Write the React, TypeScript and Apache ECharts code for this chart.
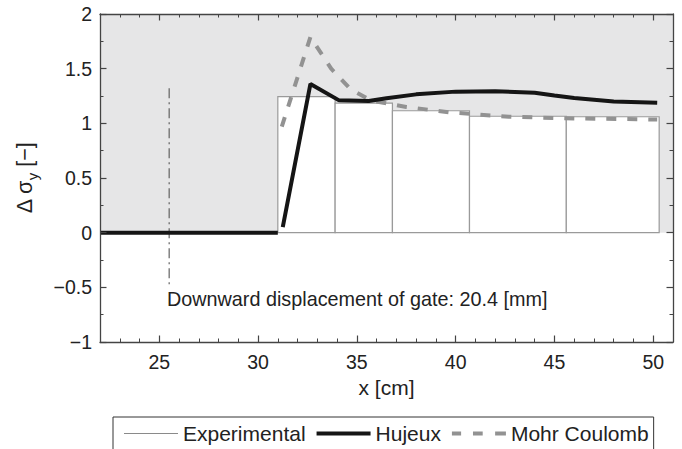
import React, { useEffect, useRef } from 'react';
import * as echarts from 'echarts';

// x-axis (cm) and y-axis ranges / ticks
const xRange = [22, 51];
const xMajorTicks = [25, 30, 35, 40, 45, 50];
const yRange = [-1, 2];

// Experimental: bins [xStart, xEnd, value]
const experimentalBins = [
  [31.0, 33.9, 1.245],
  [33.9, 36.8, 1.185],
  [36.8, 40.7, 1.115],
  [40.7, 45.6, 1.065],
  [45.6, 50.3, 1.06],
];

// Hujeux model
const hujeux = [
  [22, 0], [31.0, 0], [31.1, null],
  [31.25, 0.05], [32.65, 1.36], [34.1, 1.21], [35.6, 1.205], [36.5, 1.23],
  [38.0, 1.265], [40.0, 1.29], [42.0, 1.293], [44.0, 1.28], [45.0, 1.255],
  [46.0, 1.232], [48.0, 1.2], [50.2, 1.188],
];

// Mohr Coulomb model
const mohrCoulomb = [
  [31.2, 0.97], [32.65, 1.79], [33.7, 1.5], [34.7, 1.31], [35.7, 1.21],
  [37.5, 1.15], [39.7, 1.1], [42.7, 1.06], [46.0, 1.045], [50.2, 1.035],
];

// gate position marker (dash-dot vertical)
const gateMarker = [[25.5, 1.32], [25.5, -0.5]];

// shaded zone above zero
const shadedZone = [[22, 0], [51, 2]];

const annotation = 'Downward displacement of gate: 20.4 [mm]';

const FONT = '"Liberation Sans", Arial, sans-serif';
const AXIS_COLOR = '#444';
const TEXT_COLOR = '#222';

export default function App() {
  const ref = useRef<HTMLDivElement>(null);
  useEffect(() => {
    document.body.style.margin = '0';
    if (!ref.current) return;
    const chart = echarts.init(ref.current, null, { renderer: 'svg' });

    const axisLine = { show: true, onZero: false, lineStyle: { color: AXIS_COLOR, width: 1.3 } };
    const minorX = (position: string) => ({
      type: 'value', position, min: xRange[0], max: xRange[1], interval: 1, z: 10,
      axisLine, splitLine: { show: false },
      axisTick: { show: true, inside: true, length: 3.5, lineStyle: { color: AXIS_COLOR, width: 1 } },
      axisLabel: { show: false },
    });
    const majorX = (position: string) => ({
      type: 'value', position, min: xRange[0], max: xRange[1], z: 10,
      axisLine: { show: false, onZero: false }, splitLine: { show: false },
      axisTick: { show: true, inside: true, length: 6.5, customValues: xMajorTicks, lineStyle: { color: AXIS_COLOR, width: 1.2 } },
      axisLabel: { show: false },
    });
    const yAx = (position: string, labels: boolean) => ({
      type: 'value', position, min: yRange[0], max: yRange[1], interval: 0.5, z: 10,
      axisLine, splitLine: { show: false },
      axisTick: { show: true, inside: true, length: 6.5, lineStyle: { color: AXIS_COLOR, width: 1.2 } },
      minorTick: { show: true, splitNumber: 2, length: 3.5, lineStyle: { color: AXIS_COLOR, width: 1 } },
      minorSplitLine: { show: false },
      axisLabel: {
        show: labels, margin: 8, fontSize: 19.5, fontFamily: FONT, color: TEXT_COLOR,
        formatter: (v: number) => (v < 0 ? '\u2212' + Math.abs(v) : String(v)),
      },
    });

    const bottomMinor: any = minorX('bottom');
    bottomMinor.axisLabel = {
      show: true, margin: 10, fontSize: 19.5, fontFamily: FONT, color: TEXT_COLOR,
      formatter: (v: number) => (xMajorTicks.indexOf(v) >= 0 ? String(v) : ''),
    };
    bottomMinor.name = 'x [cm]';
    bottomMinor.nameLocation = 'middle';
    bottomMinor.nameGap = 26;
    bottomMinor.nameTextStyle = { fontSize: 21, fontFamily: FONT, color: TEXT_COLOR };

    const leftY: any = yAx('left', true);
    leftY.name = '{a|\u0394 \u03c3}{s|y}{a| [\u2212]}';
    leftY.nameLocation = 'middle';
    leftY.nameRotate = 90;
    leftY.nameGap = 60;
    leftY.nameTextStyle = {
      fontFamily: FONT, color: TEXT_COLOR,
      rich: {
        a: { fontSize: 21.5, fontFamily: FONT, color: TEXT_COLOR, lineHeight: 30, verticalAlign: 'middle' },
        s: { fontSize: 15, fontFamily: FONT, color: TEXT_COLOR, lineHeight: 30, verticalAlign: 'bottom' },
      },
    };

    const option: any = {
      animation: false,
      backgroundColor: '#fff',
      grid: { left: 100, top: 14, right: 9, bottom: 107, containLabel: false },
      xAxis: [bottomMinor, majorX('bottom'), minorX('top'), majorX('top')],
      yAxis: [leftY, yAx('right', false)],
      legend: {
        left: 113, top: 417,
        orient: 'horizontal',
        padding: [6, 5, 40, 11],
        itemGap: 11,
        itemWidth: 54,
        itemHeight: 14,
        borderColor: '#333',
        borderWidth: 1,
        textStyle: { fontSize: 21, fontFamily: FONT, color: TEXT_COLOR },
        data: [
          { name: 'Experimental', icon: 'path://M0,0H100V1.9H0Z', itemStyle: { color: '#8a8a8a', borderWidth: 0 } },
          { name: 'Hujeux', icon: 'path://M0,0H100V7.6H0Z', itemStyle: { color: '#151515', borderWidth: 0 } },
          {
            name: 'Mohr Coulomb',
            icon: 'path://M0,0H17V7.6H0Z M39,0H57V7.6H39Z M80,0H100V7.6H80Z',
            itemStyle: { color: '#929292', borderWidth: 0 },
          },
        ],
      },
      graphic: [
        {
          type: 'text', left: 167, top: 289, z: 10,
          style: { text: annotation, fontSize: 19.8, fontFamily: FONT, fill: TEXT_COLOR },
        },
      ],
      series: [
        {
          name: 'shade', type: 'line', data: [], z: 0, silent: true,
          markArea: {
            silent: true,
            itemStyle: { color: '#e6e6e7' },
            data: [[{ coord: shadedZone[0] }, { coord: shadedZone[1] }]],
          },
        },
        {
          name: 'Experimental', type: 'custom', z: 1,
          data: experimentalBins,
          encode: { x: [0, 1], y: 2 },
          itemStyle: { color: '#8a8a8a' },
          renderItem: (params: any, api: any) => {
            const p0 = api.coord([api.value(0), api.value(2)]);
            const p1 = api.coord([api.value(1), 0]);
            return {
              type: 'rect',
              shape: { x: p0[0], y: p0[1], width: p1[0] - p0[0], height: p1[1] - p0[1] },
              style: { fill: '#fff', stroke: '#9a9a9a', lineWidth: 1.2 },
            };
          },
        },
        {
          name: 'gate', type: 'line', data: gateMarker, z: 2, symbol: 'none', silent: true,
          lineStyle: { color: '#555', width: 1.1, type: [10, 4, 2, 4] },
        },
        {
          name: 'Mohr Coulomb', type: 'line', data: mohrCoulomb, z: 3, symbol: 'none',
          color: '#929292',
          lineStyle: { color: '#929292', width: 4, type: [10, 11] },
        },
        {
          name: 'Hujeux', type: 'line', data: hujeux, z: 4, symbol: 'none',
          color: '#151515', connectNulls: false,
          lineStyle: { color: '#151515', width: 4 },
        },
      ],
    };
    chart.setOption(option);
    return () => chart.dispose();
  }, []);
  return <div ref={ref} style={{ width: 682, height: 449 }} />;
}
